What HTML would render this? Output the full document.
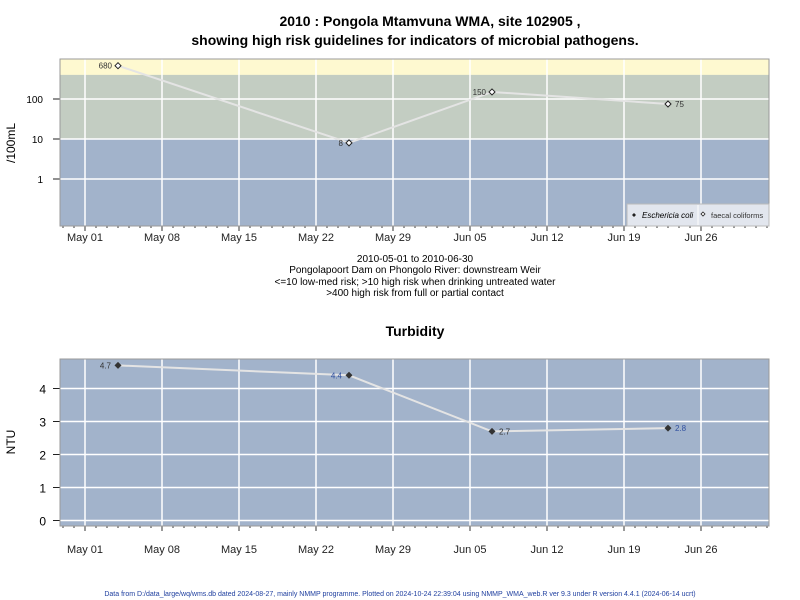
<!DOCTYPE html>
<html><head><meta charset="utf-8"><style>
body{margin:0;background:#fff;font-family:"Liberation Sans",sans-serif}
svg{display:block}
text{font-family:"Liberation Sans",sans-serif}
</style></head><body>
<svg id="c" width="800" height="600" xmlns="http://www.w3.org/2000/svg">
<text x="430" y="26" text-anchor="middle" font-size="14" font-weight="bold">2010 : Pongola Mtamvuna WMA, site 102905 ,</text>
<text x="415" y="45" text-anchor="middle" font-size="14" font-weight="bold">showing high risk guidelines for indicators of microbial pathogens.</text>
<text x="415" y="262" text-anchor="middle" font-size="10">2010-05-01 to 2010-06-30</text>
<text x="415" y="273" text-anchor="middle" font-size="10">Pongolapoort Dam on Phongolo River: downstream Weir</text>
<text x="415" y="285" text-anchor="middle" font-size="10">&lt;=10 low-med risk; &gt;10 high risk when drinking untreated water</text>
<text x="415" y="296" text-anchor="middle" font-size="10">&gt;400 high risk from full or partial contact</text>
<text x="415" y="336" text-anchor="middle" font-size="14" font-weight="bold">Turbidity</text>
<text x="400" y="596" text-anchor="middle" font-size="7" fill="#1f3f9f">Data from D:/data_large/wq/wms.db dated 2024-08-27, mainly NMMP programme. Plotted on 2024-10-24 22:39:04 using NMMP_WMA_web.R ver 9.3 under R version 4.4.1 (2024-06-14 ucrt)</text>
<text transform="translate(15,143) rotate(-90)" text-anchor="middle" font-size="12">/100mL</text>
<text transform="translate(15,442) rotate(-90)" text-anchor="middle" font-size="12">NTU</text>
</svg>
<script>
const dates=["2010-05-04","2010-05-25","2010-06-07","2010-06-23"];
const faecal=[680,8,150,75];
const faecalLabels=["680","8","150","75"];
const turbidity=[4.7,4.4,2.7,2.8];
const turbLabels=["4.7","4.4","2.7","2.8"];
const xTickLabels=["May 01","May 08","May 15","May 22","May 29","Jun 05","Jun 12","Jun 19","Jun 26"];
const xTickDays=[0,7,14,21,28,35,42,49,56];
const logTicks=[1,10,100];
const linTicks=[0,1,2,3,4];

const NS="http://www.w3.org/2000/svg";
const svg=document.getElementById('c');
function mk(t,a,p){const e=document.createElementNS(NS,t);for(const k in a)e.setAttribute(k,a[k]);(p||svg).appendChild(e);return e;}
const base=Date.UTC(2010,4,1);
function dayOf(s){const p=s.split('-');return (Date.UTC(+p[0],+p[1]-1,+p[2])-base)/86400000;}
const X0=60,X1=769;
function xs(d){return 85+d*11;}
// top panel
const T0=59,T1=226;
function yl(v){return 179-Math.log10(v)*40;}
// bottom panel
const B0=359,B1=526;
function yn(v){return 520.5-v*33;}

// top backgrounds
let r=mk('rect',{x:X0,y:T0,width:X1-X0,height:T1-T0,fill:'#a2b3cb'});

r=mk('rect',{x:X0,y:yl(400),width:X1-X0,height:yl(10)-yl(400),fill:'#c3cdc2'});

r=mk('rect',{x:X0,y:T0,width:X1-X0,height:yl(400)-T0,fill:'#fef9d0'});

r=mk('rect',{x:X0,y:B0,width:X1-X0,height:B1-B0,fill:'#a2b3cb'});


function xAxis(top,bot,labY,pfx){
  xTickDays.forEach((d,i)=>{
    const x=xs(d);
    let g=mk('line',{x1:x,x2:x,y1:top,y2:bot,stroke:'#fff','stroke-width':1.5});
    
    let t=mk('line',{x1:x,x2:x,y1:bot,y2:bot+5,stroke:'#333'});
    
    let l=mk('text',{x:x,y:labY,'text-anchor':'middle','font-size':11,fill:'#222'});
    l.textContent=xTickLabels[i];
    
  });
  for(let d=-2;d<=62;d++){if(d%7===0)continue;const x=xs(d);if(x<X0||x>X1)continue;
    let m=mk('line',{x1:x,x2:x,y1:bot,y2:bot+2,stroke:'#333'});
    }
}
xAxis(T0,T1,241,'top');
xAxis(B0,B1,553,'bottom');

logTicks.forEach(v=>{const y=yl(v);
  let g=mk('line',{x1:X0,x2:X1,y1:y,y2:y,stroke:'#fff','stroke-width':1.5});
  
  let t=mk('line',{x1:X0-7,x2:X0,y1:y,y2:y,stroke:'#222'});
  
  let l=mk('text',{x:X0-17,y:y+4,'text-anchor':'end','font-size':10});l.textContent=String(v);
  });
linTicks.forEach(v=>{const y=yn(v);
  let g=mk('line',{x1:X0,x2:X1,y1:y,y2:y,stroke:'#fff','stroke-width':1.5});
  
  let t=mk('line',{x1:X0-7,x2:X0,y1:y,y2:y,stroke:'#222'});
  
  let l=mk('text',{x:X0-14,y:y+5,'text-anchor':'end','font-size':12});l.textContent=String(v);
  });

// frames
let f=mk('rect',{x:X0,y:T0,width:X1-X0,height:T1-T0,fill:'none',stroke:'#999'});

f=mk('rect',{x:X0,y:B0,width:X1-X0,height:B1-B0,fill:'none',stroke:'#999'});


// top series
let pts=dates.map((d,i)=>xs(dayOf(d))+','+yl(faecal[i])).join(' ');
let pl=mk('polyline',{points:pts,fill:'none',stroke:'#e4e4e4','stroke-width':2});

dates.forEach((d,i)=>{const x=xs(dayOf(d)),y=yl(faecal[i]);
  let p=mk('path',{d:`M${x} ${y-3}L${x+3} ${y}L${x} ${y+3}L${x-3} ${y}Z`,fill:'#fff',stroke:'#222'});
  
  const right=i===dates.length-1;
  let l=mk('text',{x:right?x+7:x-6,y:y+3,'text-anchor':right?'start':'end','font-size':8,fill:'#333'});
  l.textContent=faecalLabels[i];
  });

// bottom series
pts=dates.map((d,i)=>xs(dayOf(d))+','+yn(turbidity[i])).join(' ');
pl=mk('polyline',{points:pts,fill:'none',stroke:'#e4e4e4','stroke-width':2});

dates.forEach((d,i)=>{const x=xs(dayOf(d)),y=yn(turbidity[i]);
  let p=mk('path',{d:`M${x} ${y-3.5}L${x+3.5} ${y}L${x} ${y+3.5}L${x-3.5} ${y}Z`,fill:'#333'});
  
  const right=i>=2;
  let l=mk('text',{x:right?x+7:x-7,y:y+3,'text-anchor':right?'start':'end','font-size':8,fill:i%2?'#2f4f9f':'#333'});
  l.textContent=turbLabels[i];
  });

// legend
const lg=mk('g',{});

let lb=mk('rect',{x:627,y:204,width:142,height:22,fill:'#e2e6ee',stroke:'#bbb'},lg);

let e1=mk('path',{d:'M634 213L636 215L634 217L632 215Z',fill:'#222'},lg);

let t1=mk('text',{x:642,y:218,'font-size':8,'font-style':'italic'},lg);t1.textContent='Eschericia coli';

let s1=mk('line',{x1:698,x2:698,y1:205,y2:225,stroke:'#fff'},lg);

let e2=mk('path',{d:'M703 212L705 214L703 216L701 214Z',fill:'#fff',stroke:'#222','stroke-width':0.8},lg);

let t2=mk('text',{x:711,y:218,'font-size':7.5,fill:'#333'},lg);t2.textContent='faecal coliforms';

</script>
</body></html>
